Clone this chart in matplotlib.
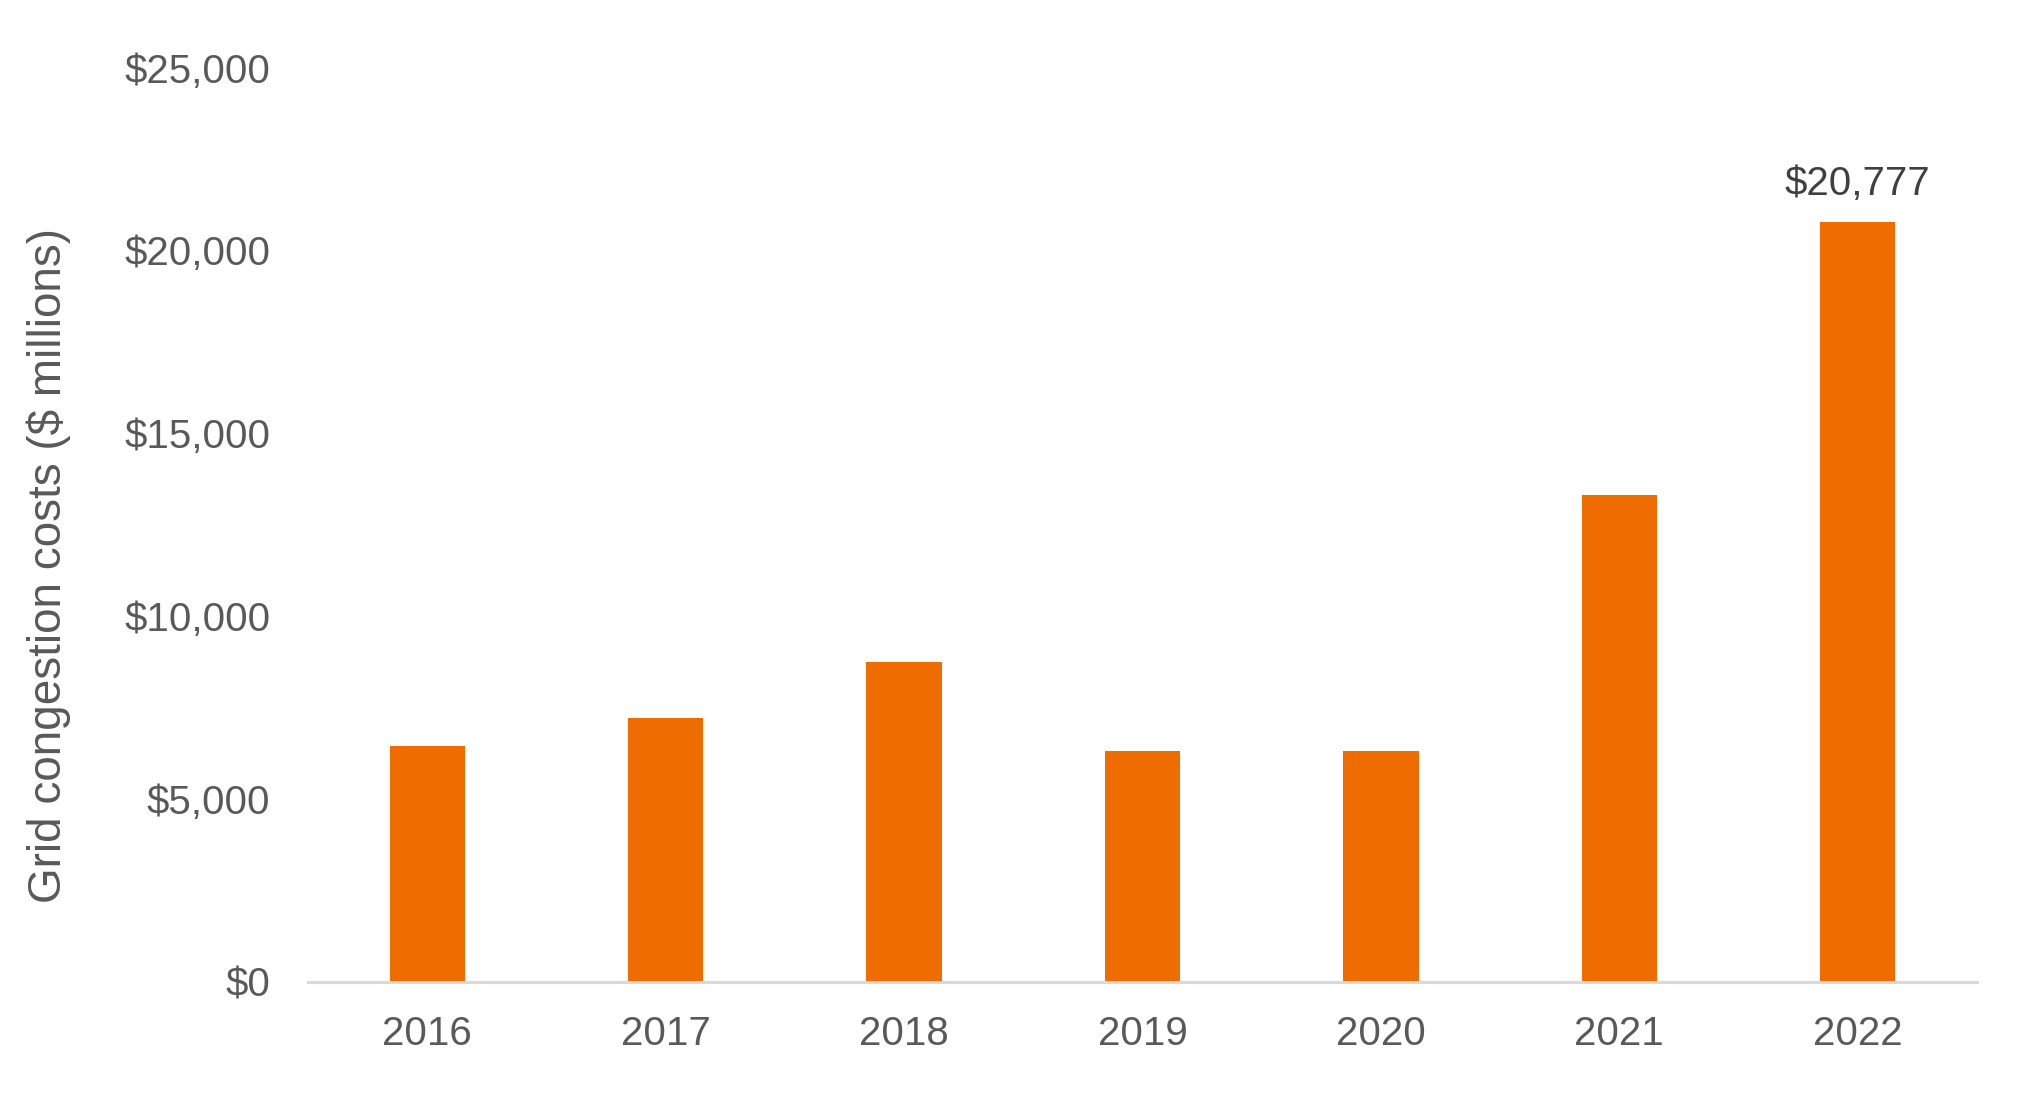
import matplotlib
matplotlib.use("Agg")
import matplotlib.pyplot as plt
from matplotlib.ticker import FuncFormatter

years = ["2016", "2017", "2018", "2019", "2020", "2021", "2022"]
costs = [6450, 7200, 8730, 6300, 6300, 13300, 20777]
yticks = [0, 5000, 10000, 15000, 20000, 25000]

plt.rcParams['font.family'] = ['Liberation Sans', 'DejaVu Sans']

fig = plt.figure(figsize=(20.41, 11.01), dpi=100)
ax = fig.add_axes([0.1509, 0.1085, 0.8177, 0.830])

x = list(range(len(years)))
ax.bar(x, costs, width=0.316, color="#EF6C00", zorder=2)

ax.set_xlim(-0.5, len(years) - 0.5)
ax.set_ylim(0, 25000)
ax.set_yticks(yticks)
ax.yaxis.set_major_formatter(FuncFormatter(lambda v, p: f"${v:,.0f}"))
ax.set_xticks(x)
ax.set_xticklabels(years)

for s in ["top", "right", "left"]:
    ax.spines[s].set_visible(False)
ax.spines["bottom"].set_color("#D9D9D9")
ax.spines["bottom"].set_linewidth(2.2)

ax.tick_params(axis="both", length=0, labelsize=29, labelcolor="#595959")
ax.tick_params(axis="y", pad=27)
ax.tick_params(axis="x", pad=24)

ax.set_ylabel("Grid congestion costs ($ millions)", fontsize=33, color="#595959")
ax.yaxis.set_label_coords(-0.142, 0.455)

ax.annotate(f"${costs[-1]:,.0f}", xy=(x[-1], costs[-1]), xytext=(0, 14),
            textcoords="offset points", ha="center", va="bottom",
            fontsize=29, color="#404040")

fig.savefig("out.png", dpi=100, facecolor="white")
